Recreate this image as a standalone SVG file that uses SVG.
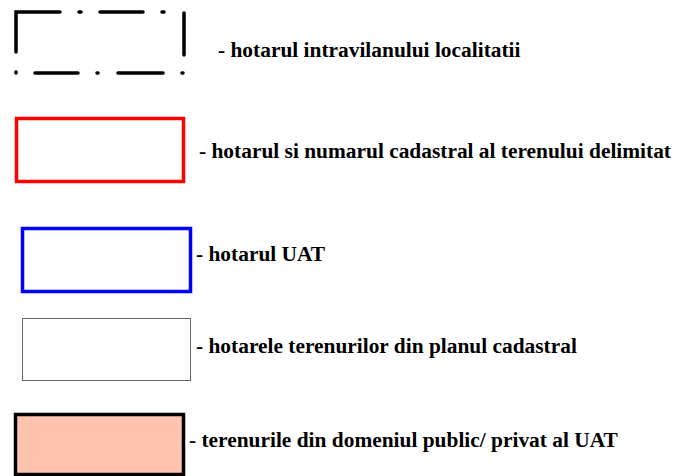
<svg xmlns="http://www.w3.org/2000/svg" width="678" height="476" viewBox="0 0 678 476">
<style>
.t{font-family:"Liberation Serif","Times New Roman",serif;font-weight:bold;font-size:21.4px;fill:#000}
.dd{stroke:#000;stroke-width:3.5;stroke-linecap:round;fill:none}
</style>
<rect width="678" height="476" fill="#fff"/>
<g id="intravilan">
<path class="dd" d="M16 52 V12 H60 M79 12 H81 M100 12 H143 M162 12 H164 M184 13 V55 M16 72 V73 M35 73 H78 M97 73 H98 M118 73 H163 M182 73 H183"/>
<text class="t" x="218" y="57">- hotarul intravilanului localitatii</text>
</g>
<g id="teren">
<rect x="16.5" y="118.5" width="167" height="63" fill="none" stroke="#f00" stroke-width="3.5"/>
<text class="t" x="199" y="158">- hotarul si numarul cadastral al terenului delimitat</text>
</g>
<g id="uat">
<rect x="22.5" y="228.5" width="168" height="63" fill="none" stroke="#00f" stroke-width="3.5"/>
<text class="t" x="196" y="261">- hotarul UAT</text>
</g>
<g id="cadastral">
<rect x="22.5" y="318.5" width="168" height="62" fill="none" stroke="#666" stroke-width="1"/>
<text class="t" x="196" y="353">- hotarele terenurilor din planul cadastral</text>
</g>
<g id="domeniu">
<rect x="15.5" y="414.5" width="168" height="60" fill="#ffc4b0" stroke="#000" stroke-width="3.5"/>
<text class="t" x="189" y="447">- terenurile din domeniul public/ privat al UAT</text>
</g>
<g id="connectors"/>
</svg>
